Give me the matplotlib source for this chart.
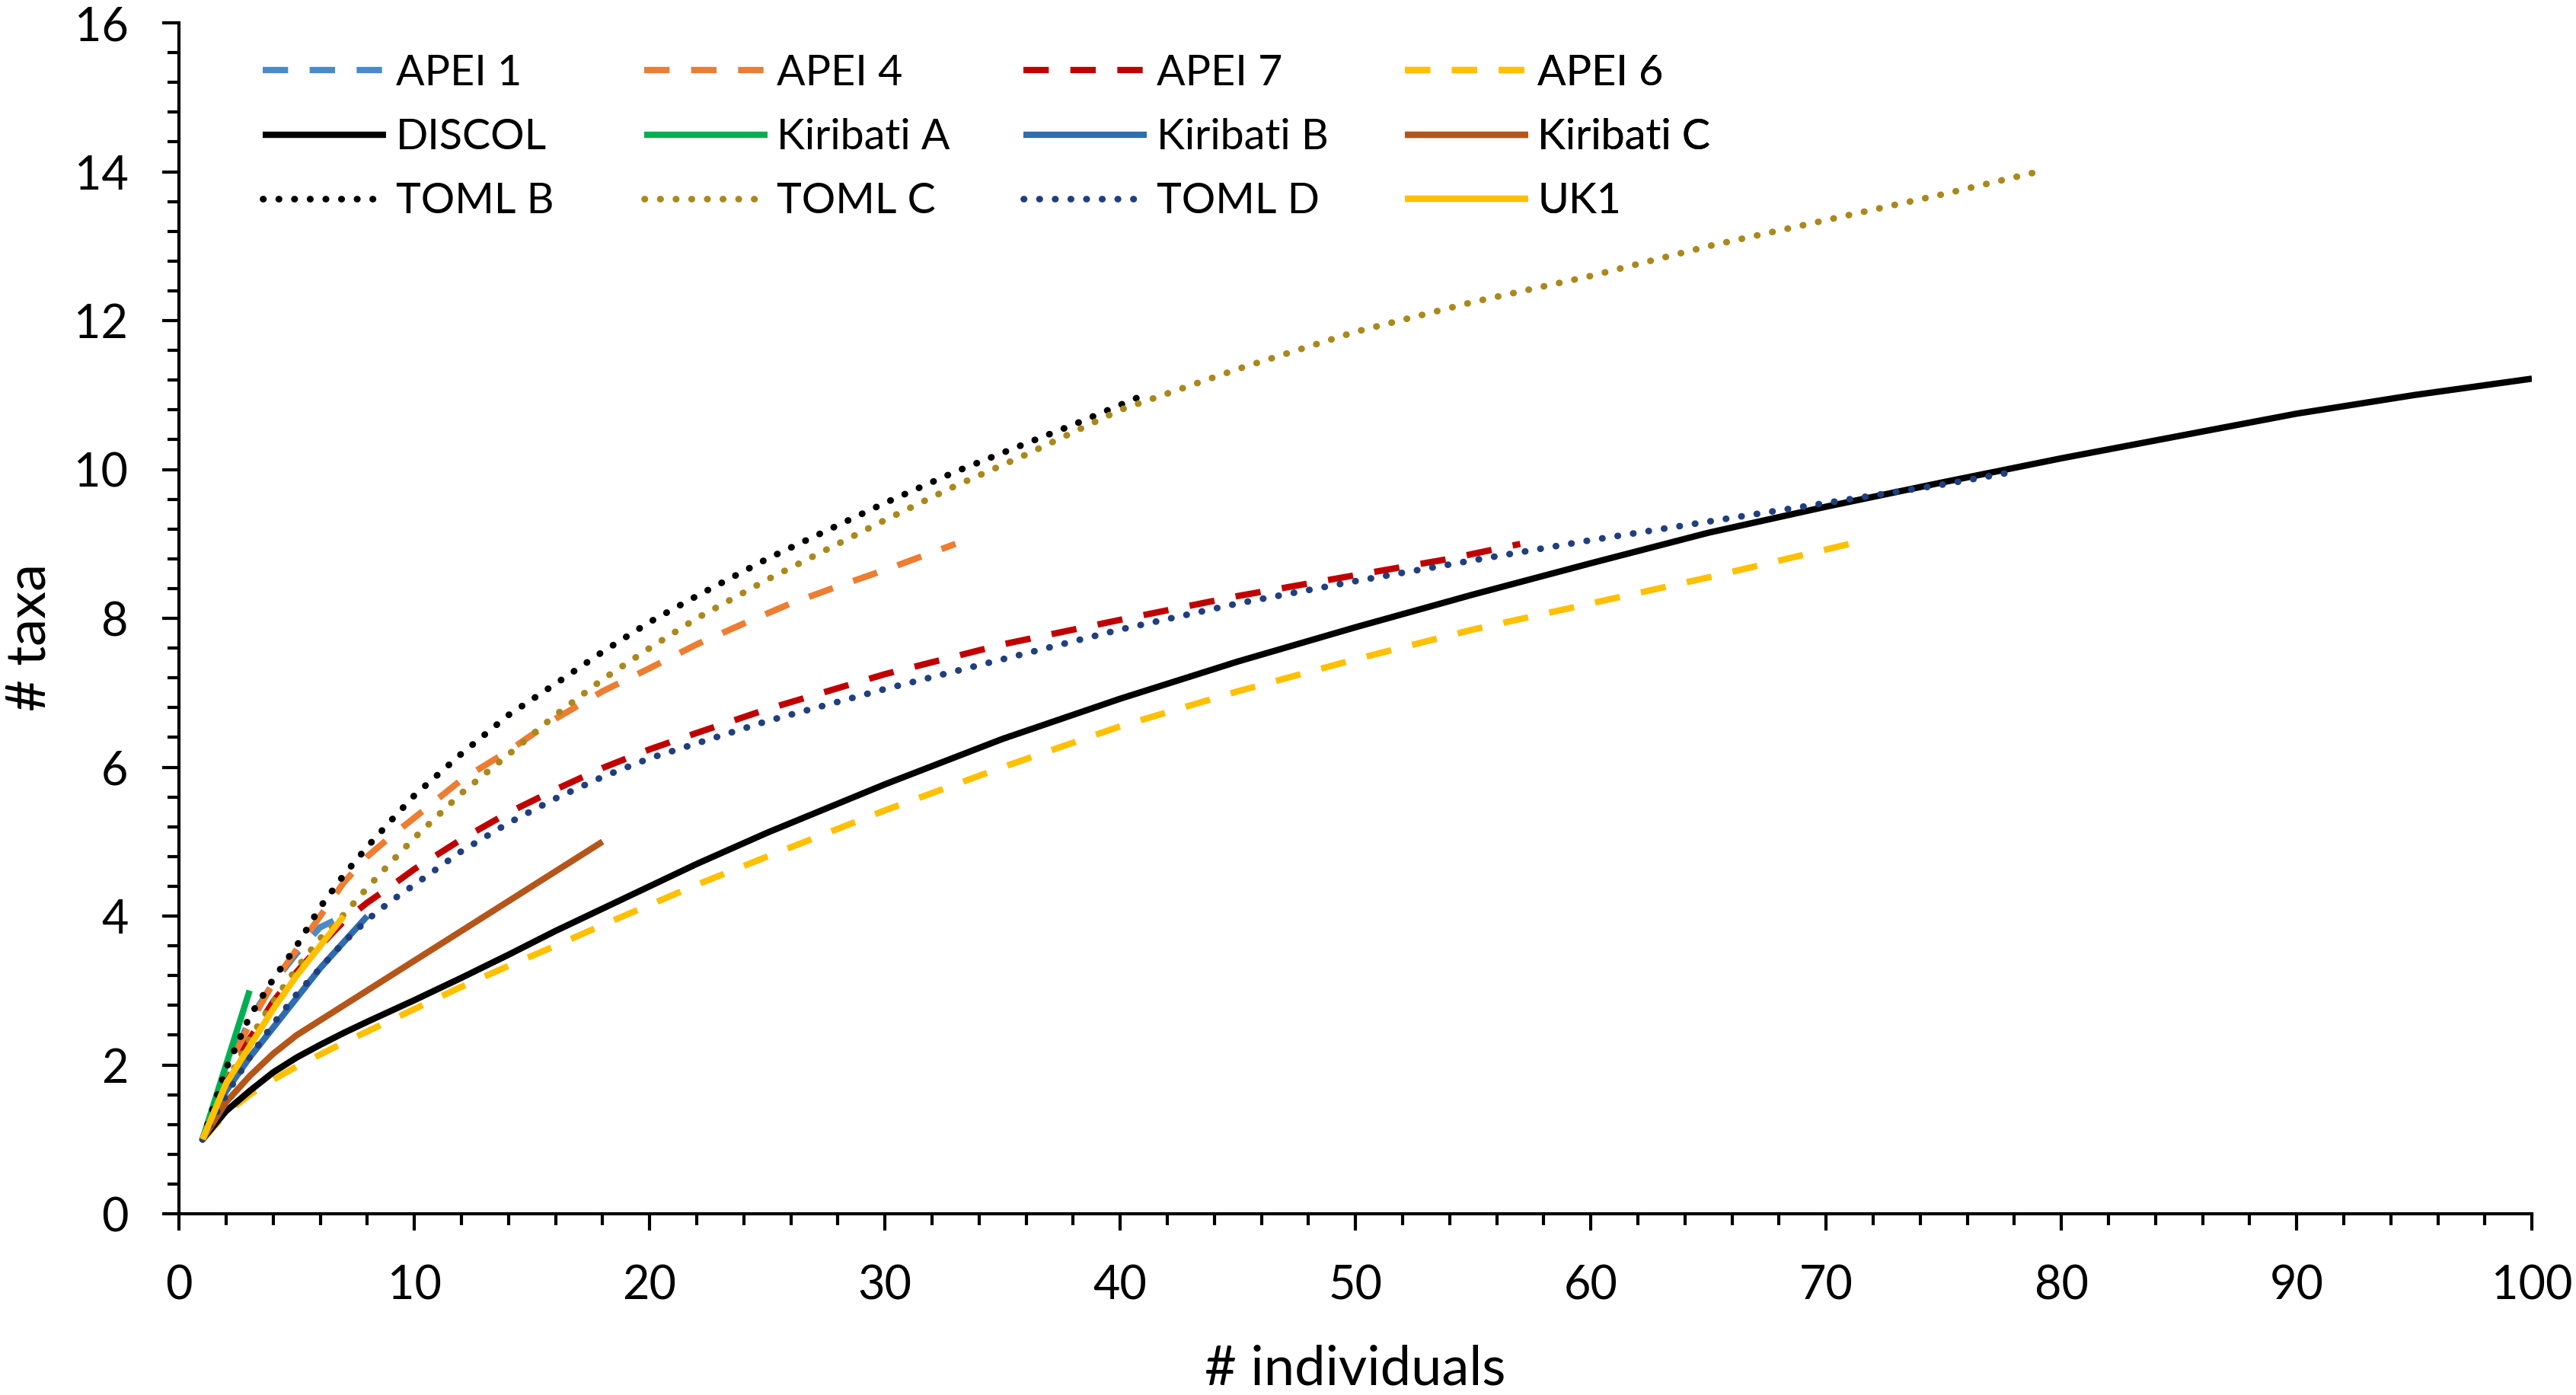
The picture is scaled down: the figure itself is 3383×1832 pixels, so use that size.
import matplotlib
matplotlib.use("Agg")
import matplotlib.pyplot as plt
from matplotlib.ticker import MultipleLocator

plt.rcParams['font.family'] = ['Lato', 'DejaVu Sans']

# ---------------- data ----------------
apei1_x = [1, 2, 3, 4, 5, 6, 7]
apei1_y = [1, 1.9, 2.6, 3.1, 3.5, 3.85, 4.0]

apei4_x = [1, 2, 3, 4, 5, 6, 7, 8, 9, 10, 12, 14, 16, 18, 20, 22, 24, 26, 28, 30, 33]
apei4_y = [1, 1.9, 2.55, 3.1, 3.55, 4.0, 4.45, 4.8, 5.07, 5.32, 5.83, 6.22, 6.65, 7.02,
           7.33, 7.65, 7.93, 8.2, 8.43, 8.65, 9.0]

apei7_x = [1, 2, 3, 4, 5, 6, 7, 8, 9, 10, 12, 14, 16, 18, 20, 22, 25, 30, 35, 40, 45, 50, 54, 57]
apei7_y = [1, 1.75, 2.35, 2.85, 3.25, 3.6, 3.93, 4.18, 4.4, 4.63, 5.03, 5.39, 5.7, 5.99,
           6.24, 6.46, 6.78, 7.25, 7.65, 7.98, 8.3, 8.58, 8.8, 9.0]

apei6_x = [1, 2, 3, 4, 5, 6, 7, 8, 10, 12, 14, 16, 18, 20, 22, 25, 30, 35, 40, 45, 50, 55, 60, 65, 71]
apei6_y = [1, 1.35, 1.6, 1.8, 1.98, 2.14, 2.3, 2.45, 2.75, 3.05, 3.33, 3.6, 3.88, 4.15,
           4.42, 4.8, 5.42, 6.0, 6.55, 7.02, 7.45, 7.85, 8.2, 8.55, 9.0]

discol_x = [1, 2, 3, 4, 5, 6, 7, 8, 10, 12, 14, 16, 18, 20, 22, 25, 30, 35, 40, 45, 50,
            55, 60, 65, 70, 75, 80, 85, 90, 95, 100]
discol_y = [1, 1.38, 1.65, 1.9, 2.1, 2.27, 2.43, 2.58, 2.87, 3.17, 3.48, 3.8, 4.1, 4.4,
            4.7, 5.12, 5.77, 6.38, 6.92, 7.42, 7.88, 8.32, 8.74, 9.15, 9.5, 9.83, 10.15,
            10.45, 10.75, 11.0, 11.22]

kirA_x = [1, 2, 3]
kirA_y = [1, 2.0, 3.0]

kirB_x = [1, 2, 3, 4, 5, 6, 7, 8]
kirB_y = [1, 1.65, 2.1, 2.5, 2.9, 3.3, 3.65, 4.0]

kirC_x = [1, 2, 3, 4, 5, 6, 7, 8, 9, 10, 11, 12, 13, 14, 15, 16, 17, 18]
kirC_y = [1, 1.5, 1.85, 2.15, 2.4, 2.6, 2.8, 3.0, 3.2, 3.4, 3.6, 3.8, 4.0, 4.2, 4.4,
          4.6, 4.8, 5.0]

tomlB_x = [1, 2, 3, 4, 5, 6, 7, 8, 9, 10, 12, 14, 16, 18, 20, 22, 25, 28, 30, 33, 36, 38, 41]
tomlB_y = [1, 1.95, 2.65, 3.15, 3.6, 4.12, 4.55, 4.93, 5.28, 5.62, 6.18, 6.7, 7.12, 7.55,
           7.95, 8.3, 8.8, 9.25, 9.55, 9.97, 10.35, 10.6, 11.0]

tomlC_x = [1, 2, 3, 4, 5, 6, 7, 8, 9, 10, 12, 14, 16, 18, 20, 22, 25, 28, 30, 33, 36, 40,
           45, 50, 55, 60, 65, 70, 75, 79]
tomlC_y = [1, 1.75, 2.35, 2.85, 3.3, 3.7, 4.02, 4.38, 4.72, 5.05, 5.65, 6.17, 6.7, 7.18,
           7.6, 8.0, 8.52, 9.0, 9.32, 9.78, 10.2, 10.8, 11.35, 11.85, 12.25, 12.6, 13.0,
           13.35, 13.7, 14.0]

tomlD_x = [1, 2, 3, 4, 5, 6, 7, 8, 9, 10, 12, 14, 16, 18, 20, 22, 25, 30, 35, 40, 45, 50,
           55, 60, 65, 70, 75, 78]
tomlD_y = [1, 1.6, 2.1, 2.55, 2.95, 3.3, 3.65, 3.95, 4.2, 4.42, 4.87, 5.25, 5.58, 5.87,
           6.12, 6.32, 6.62, 7.05, 7.45, 7.85, 8.2, 8.5, 8.78, 9.05, 9.3, 9.55, 9.8, 9.97]

uk1_x = [1, 2, 3, 4, 5, 6, 7]
uk1_y = [1, 1.75, 2.25, 2.75, 3.2, 3.6, 4.0]

labels = ["APEI 1", "APEI 4", "APEI 7", "APEI 6", "DISCOL", "Kiribati A", "Kiribati B",
          "Kiribati C", "TOML B", "TOML C", "TOML D", "UK1"]
x_ticks = [0, 10, 20, 30, 40, 50, 60, 70, 80, 90, 100]
y_ticks = [0, 2, 4, 6, 8, 10, 12, 14, 16]

# ---------------- styles ----------------
LW = 3.0
DASH = (0, (4, 3.4))
DOT = (0, (0.05, 2.3))

series = [
    (apei1_x, apei1_y, '#4A89CC', 'dash'),
    (apei4_x, apei4_y, '#ED7D31', 'dash'),
    (apei7_x, apei7_y, '#C00000', 'dash'),
    (apei6_x, apei6_y, '#FFC000', 'dash'),
    (discol_x, discol_y, '#000000', 'solid'),
    (kirA_x, kirA_y, '#00B050', 'solid'),
    (kirB_x, kirB_y, '#2E6DB0', 'solid'),
    (kirC_x, kirC_y, '#B4561A', 'solid'),
    (tomlB_x, tomlB_y, '#000000', 'dot'),
    (tomlC_x, tomlC_y, '#AA881C', 'dot'),
    (tomlD_x, tomlD_y, '#203F7F', 'dot'),
    (uk1_x, uk1_y, '#FFC000', 'solid'),
]

fig = plt.figure(figsize=(16.915, 9.16), dpi=200)
ax = fig.add_axes([0.0695, 0.1299, 0.9134, 0.8537])

handles = []
for (xs, ys, col, sty), lab in zip(series, labels):
    if sty == 'dash':
        ln, = ax.plot(xs, ys, color=col, lw=LW, linestyle=DASH, dash_capstyle='butt', label=lab)
    elif sty == 'dot':
        ln, = ax.plot(xs, ys, color=col, lw=LW * 1.05, linestyle=DOT, dash_capstyle='round', label=lab)
    else:
        ln, = ax.plot(xs, ys, color=col, lw=LW, linestyle='-', solid_capstyle='butt', label=lab)
    handles.append(ln)

ax.set_xlim(0, 100)
ax.set_ylim(0, 16)
ax.set_xticks(x_ticks)
ax.set_yticks(y_ticks)
ax.xaxis.set_minor_locator(MultipleLocator(2))
ax.yaxis.set_minor_locator(MultipleLocator(0.4))

for s in ['top', 'right']:
    ax.spines[s].set_visible(False)
for s in ['left', 'bottom']:
    ax.spines[s].set_linewidth(1.5)
    ax.spines[s].set_color('black')

ax.tick_params(axis='both', which='major', direction='out', length=8, width=1.5,
               labelsize=22, pad=16, colors='black')
ax.tick_params(axis='both', which='minor', direction='out', length=5.5, width=1.5)

ax.set_xlabel('# individuals', fontsize=26, va='center')
ax.xaxis.set_label_coords(0.5, -0.1304)
ax.set_ylabel('# taxa', fontsize=26, va='center')
ax.yaxis.set_label_coords(-0.0634, 0.484)

# legend: 4 columns x 3 rows, row-wise order as in the reference
col_x = [0.0356, 0.1977, 0.3589, 0.5210]
for c in range(4):
    hs = [handles[c], handles[4 + c], handles[8 + c]]
    leg = ax.legend(hs, [h.get_label() for h in hs], loc='upper left',
                    bbox_to_anchor=(col_x[c], 0.974), bbox_transform=ax.transAxes,
                    frameon=False, fontsize=20, borderpad=0, borderaxespad=0,
                    handlelength=2.92, handletextpad=0.22, labelspacing=0.60)
    ax.add_artist(leg)

fig.savefig('out.png', dpi=200)
